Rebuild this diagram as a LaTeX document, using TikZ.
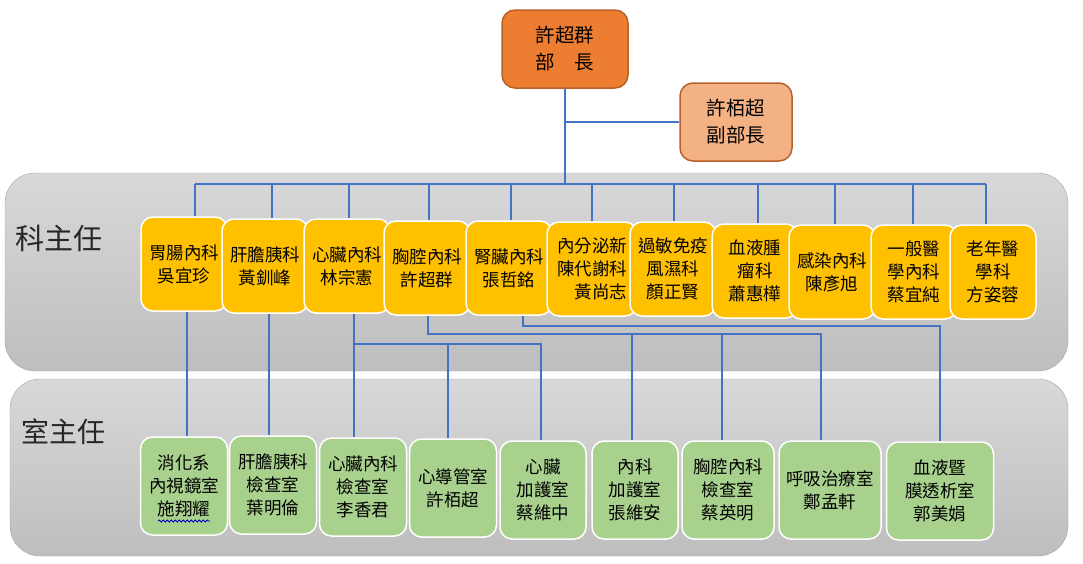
\documentclass[tikz,border=0pt]{standalone}
\usepackage{fontspec}
\setmainfont{Noto Sans CJK TC}
\usepackage{tikz}
\usetikzlibrary{calc}
\usetikzlibrary{decorations.pathmorphing}
\definecolor{chieffill}{HTML}{ED7D31}
\definecolor{deputyfill}{HTML}{F4B183}
\definecolor{chiefedge}{HTML}{B8612A}
\definecolor{deptfill}{HTML}{FFC000}
\definecolor{roomfill}{HTML}{A9D18E}
\definecolor{wireblue}{HTML}{4472C4}
\definecolor{paneedge}{HTML}{A6A6A6}
\definecolor{panetop}{HTML}{D8D8D8}
\definecolor{panebot}{HTML}{BEBEBE}

\begin{document}
\begin{tikzpicture}[x=1pt,y=-1pt,
    head/.style={draw=chiefedge,line width=1.5pt,rounded corners=13pt,minimum width=126pt,minimum height=78pt,align=center,font=\fontsize{19.5}{27}\selectfont},
    dept/.style={fill=deptfill,draw=white,line width=1.5pt,rounded corners=12pt,minimum width=86pt,minimum height=94pt,inner sep=2pt,align=center,font=\fontsize{17.5}{23}\selectfont},
    room/.style={fill=roomfill,draw=white,line width=1.5pt,rounded corners=12pt,minimum width=87pt,minimum height=98pt,inner sep=2pt,align=center,font=\fontsize{17.5}{23}\selectfont},
    pane/.style={draw=paneedge,top color=panetop,bottom color=panebot,rounded corners=30pt},
    wire/.style={draw=wireblue,line width=1.6pt}]
    \useasboundingbox (0,0) rectangle (1083,563);
    \draw[pane] (5,173) rectangle (1068,371);
    \draw[pane] (10,379) rectangle (1068,556);
    \node[text=black!85,font=\fontsize{29}{29}\selectfont] (kzr) at (59,238) {科主任};
    \node[text=black!85,font=\fontsize{28}{28}\selectfont] (szr) at (63,432) {室主任};

    \node[head,fill=chieffill] (bu) at (565,49) {許超群\\部　長};
    \node[head,fill=deputyfill,minimum width=112pt] (fu) at (736,122) {許栢超\\副部長};

    \node[dept] (k1) at (184,264) {胃腸內科\\吳宜珍};
    \node[dept] (k2) at (265,266) {肝膽胰科\\黃釧峰};
    \node[dept] (k3) at (347,266) {心臟內科\\林宗憲};
    \node[dept] (k4) at (427,268) {胸腔內科\\許超群};
    \node[dept] (k5) at (509,268) {腎臟內科\\張哲銘};
    \node[dept,minimum width=90pt,align=right] (k6) at (592,269) {內分泌新\\陳代謝科\\黃尚志};
    \node[dept] (k7) at (673,269) {過敏免疫\\風濕科\\顏正賢};
    \node[dept] (k8) at (755,271) {血液腫\\瘤科\\蕭惠樺};
    \node[dept] (k9) at (832,272) {感染內科\\陳彥旭};
    \node[dept] (k10) at (914,272) {一般醫\\學內科\\蔡宜純};
    \node[dept] (k11) at (993,272) {老年醫\\學科\\方姿蓉};

    \node[room] (s1) at (184,486) {消化系\\內視鏡室\\施翔耀};
    \node[room] (s2) at (273,485) {肝膽胰科\\檢查室\\葉明倫};
    \node[room] (s3) at (363,487) {心臟內科\\檢查室\\李香君};
    \node[room] (s4) at (453,488) {心導管室\\許栢超};
    \node[room,minimum width=86pt] (s5) at (543,490) {心臟\\加護室\\蔡維中};
    \node[room,minimum width=86pt] (s6) at (635,490) {內科\\加護室\\張維安};
    \node[room,minimum width=92pt] (s7) at (728,490) {胸腔內科\\檢查室\\蔡英明};
    \node[room,minimum width=102pt] (s8) at (830,490) {呼吸治療室\\鄭孟軒};
    \node[room,minimum width=107pt] (s9) at (940,491) {血液暨\\膜透析室\\郭美娟};
    \draw[decorate,decoration={snake,amplitude=1pt,segment length=4pt},draw=blue!75!black,line width=0.8pt] ([shift={(-26,35)}]s1.center) -- ([shift={(26,35)}]s1.center);

    \coordinate (bus) at (0,184);
    \coordinate (h3) at (0,344);
    \coordinate (h4) at (0,334);
    \coordinate (h5) at (0,326);
    \draw[wire] (bu.south) -- (bu.south |- bus);
    \draw[wire] (bu.south |- fu.west) -- (fu.west);
    \draw[wire] ([xshift=11]k1.north |- bus) -- ([xshift=-7]k11.north |- bus);
    \foreach \n/\d in {k1/11,k2/7,k3/2,k4/2,k5/2,k6/0,k7/1,k8/3,k9/3,k10/-1,k11/-7}
        \draw[wire] ([xshift=\d]\n.north) -- ([xshift=\d]\n.north |- bus);

    \draw[wire] ([xshift=3]k1.south) -- ([xshift=3]k1.south |- s1.north);
    \draw[wire] ([xshift=4]k2.south) -- ([xshift=4]k2.south |- s2.north);
    \draw[wire] ([xshift=7]k3.south) -- ([xshift=7]k3.south |- s3.north);
    \draw[wire] ([xshift=7]k3.south |- h3) -| ([xshift=-2]s5.north);
    \draw[wire] ([xshift=-5]s4.north) -- ([xshift=-5]s4.north |- h3);
    \draw[wire] ([xshift=1]k4.south) |- ([xshift=-9]s8.north |- h4) -- ([xshift=-9]s8.north);
    \draw[wire] ([xshift=-3]s6.north) -- ([xshift=-3]s6.north |- h4);
    \draw[wire] ([xshift=-6]s7.north) -- ([xshift=-6]s7.north |- h4);
    \draw[wire] ([xshift=14]k5.south) |- (s9.north |- h5) -- (s9.north);
\end{tikzpicture}
\end{document}
